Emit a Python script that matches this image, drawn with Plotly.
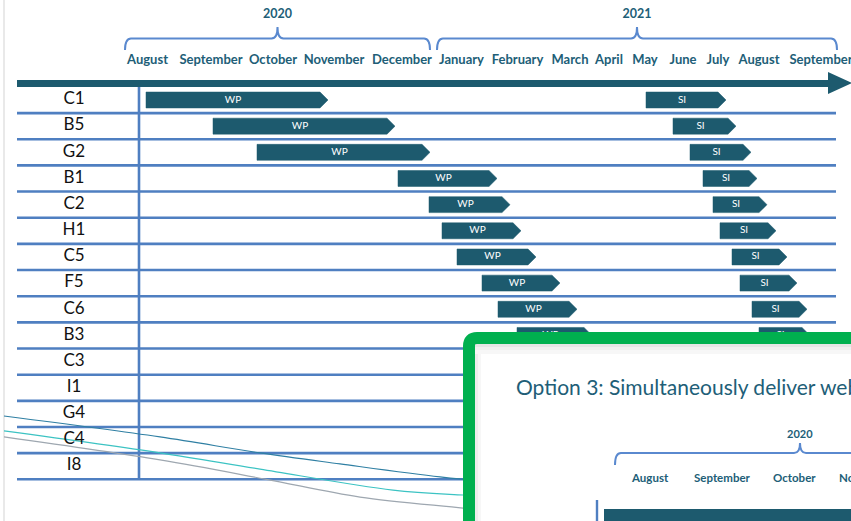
import plotly.graph_objects as go

# ---------------- data ----------------
rows = ["C1", "B5", "G2", "B1", "C2", "H1", "C5", "F5", "C6", "B3", "C3", "I1", "G4", "C4", "I8"]
bar_rows = ["C1", "B5", "G2", "B1", "C2", "H1", "C5", "F5", "C6", "B3"]
# timeline position in month-width units (0 = start line of the chart)
wp_start = [0.14, 1.48, 2.36, 5.18, 5.80, 6.06, 6.36, 6.86, 7.18, 7.56]
wp_end = [3.78, 5.12, 5.82, 7.16, 7.42, 7.64, 7.94, 8.42, 8.76, 9.06]
si_start = [10.14, 10.68, 11.02, 11.28, 11.48, 11.62, 11.86, 12.02, 12.26, 12.40]
si_end = [11.74, 11.94, 12.24, 12.36, 12.56, 12.74, 12.96, 13.16, 13.36, 13.42]
wp_label = "WP"
si_label = "SI"

months = ["August", "September", "October", "November", "December", "January", "February",
          "March", "April", "May", "June", "July", "August", "September"]
month_pos = [0.17, 1.44, 2.68, 3.90, 5.26, 6.45, 7.57, 8.62, 9.40, 10.12, 10.88, 11.58, 12.40, 13.64]
years = ["2020", "2021"]
year_start = [-0.28, 5.96]
year_end = [5.82, 13.96]

# faint curves crossing the lower-left part of the slide
curve_dark_x = [-2.70, 0.42, 2.42, 4.02, 6.02, 7.00]
curve_dark_y = [12.08, 12.88, 13.49, 13.91, 14.41, 14.60]
curve_cyan_x = [-2.70, 0.42, 2.42, 5.08, 6.48, 7.00]
curve_cyan_y = [12.65, 13.49, 14.11, 14.91, 15.10, 15.15]
curve_gray_x = [-2.70, 0.42, 2.52, 4.42, 6.48, 7.00]
curve_gray_y = [12.88, 13.76, 14.49, 15.18, 15.60, 15.72]

# overlaid slide
inset_title = "Option 3: Simultaneously deliver web"
inset_year = "2020"
inset_months = ["August", "September", "October"]
inset_month_cut = "November"

# ---------------- geometry / style ----------------
W, H = 851, 521
X0_PX, X_SCALE = 139.0, 50.0
Y0_PX, Y_SCALE = 100.0, 26.16


def X(px):
    return (px - X0_PX) / X_SCALE


def Y(py):
    return (py - Y0_PX) / Y_SCALE


def PX(px):
    return px / W


def PY(py):
    return 1 - py / H


TEAL = "#1D5A6E"
TEXT = "#215E77"
LINE = "#4F7FC1"
BRACE = "#5A89CF"
GREEN = "#00B04F"
FONT = "Lato"

BAR_H = 0.61
TIP = 0.16

fig = go.Figure()

# slide edge
fig.add_trace(go.Scatter(x=[X(4), X(4)], y=[Y(0), Y(521)], mode="lines",
                         line=dict(color="#E2E2E2", width=1.5), hoverinfo="skip"))

# row separator lines
lx, ly = [], []
for k in range(len(rows)):
    lx += [X(17), X(836), None]
    ly += [k + 0.5, k + 0.5, None]
fig.add_trace(go.Scatter(x=lx, y=ly, mode="lines", line=dict(color=LINE, width=2.6),
                         hoverinfo="skip"))
# vertical start line
fig.add_trace(go.Scatter(x=[0, 0], y=[Y(86), len(rows) - 0.5], mode="lines",
                         line=dict(color=LINE, width=2.6), hoverinfo="skip"))

# curves
for cx, cy, col in [(curve_dark_x, curve_dark_y, "#2F7FA3"),
                    (curve_cyan_x, curve_cyan_y, "#3CC3C3"),
                    (curve_gray_x, curve_gray_y, "#9EA7B0")]:
    fig.add_trace(go.Scatter(x=cx, y=cy, mode="lines", line=dict(color=col, width=1.2, shape="spline"),
                             hoverinfo="skip"))

# timeline arrow
fig.add_trace(go.Scatter(x=[X(17), X(830)], y=[Y(83.5), Y(83.5)], mode="lines",
                         line=dict(color=TEAL, width=7), hoverinfo="skip"))
fig.add_trace(go.Scatter(x=[X(828), X(852), X(828), X(828)], y=[Y(72), Y(83), Y(94), Y(72)],
                         mode="lines", fill="toself", fillcolor=TEAL, line=dict(color=TEAL, width=0),
                         hoverinfo="skip"))


def arrows(starts, ends):
    xs, ys = [], []
    for r, s, e in zip(bar_rows, starts, ends):
        i = rows.index(r)
        xs += [s, e - TIP, e, e - TIP, s, s, None]
        ys += [i - BAR_H / 2, i - BAR_H / 2, i, i + BAR_H / 2, i + BAR_H / 2, i - BAR_H / 2, None]
    return xs, ys


for st, en in [(wp_start, wp_end), (si_start, si_end)]:
    xs, ys = arrows(st, en)
    fig.add_trace(go.Scatter(x=xs, y=ys, mode="lines", fill="toself", fillcolor=TEAL,
                             line=dict(color=TEAL, width=0.5), hoverinfo="skip"))

# bar labels
tx, ty, tt = [], [], []
for st, en, lab in [(wp_start, wp_end, wp_label), (si_start, si_end, si_label)]:
    for r, s, e in zip(bar_rows, st, en):
        tx.append((s + e - TIP) / 2)
        ty.append(rows.index(r))
        tt.append(lab)
fig.add_trace(go.Scatter(x=tx, y=ty, text=tt, mode="text",
                         textfont=dict(family=FONT, size=10, color="white"), hoverinfo="skip"))

# row labels
fig.add_trace(go.Scatter(x=[X(74)] * len(rows), y=list(range(len(rows))), text=rows, mode="text",
                         textfont=dict(family=FONT, size=17, color="#111111"), hoverinfo="skip"))

# month labels
fig.add_trace(go.Scatter(x=month_pos, y=[Y(60.5)] * len(months), text=[f"<b>{m}</b>" for m in months],
                         mode="text", textfont=dict(family=FONT, size=13, color=TEXT), hoverinfo="skip"))

# year labels and braces
shapes = []
yl, yb, yn = Y(38.5), Y(50), Y(27)
rx = X(145) - X(139)
for yr, a, b in zip(years, year_start, year_end):
    c = (a + b) / 2
    fig.add_trace(go.Scatter(x=[c], y=[Y(15)], text=[f"<b>{yr}</b>"], mode="text",
                             textfont=dict(family=FONT, size=12.5, color=TEXT), hoverinfo="skip"))
    path = (f"M {a},{yb} Q {a},{yl} {a + rx},{yl} L {c - rx},{yl} Q {c},{yl} {c},{yn} "
            f"Q {c},{yl} {c + rx},{yl} L {b - rx},{yl} Q {b},{yl} {b},{yb}")
    shapes.append(dict(type="path", path=path, xref="x", yref="y",
                       line=dict(color=BRACE, width=2), layer="above"))

# ---------------- overlaid slide (paper coordinates) ----------------
gp = (f"M {PX(469)},{PY(620)} L {PX(469)},{PY(346)} Q {PX(469)},{PY(338)} {PX(477)},{PY(338)} "
      f"L {PX(960)},{PY(338)} L {PX(960)},{PY(620)} Z")
shapes.append(dict(type="path", path=gp, xref="paper", yref="paper", fillcolor="white",
                   line=dict(color=GREEN, width=12), layer="above"))
for (a, b, op) in [(344, 347, 0.10), (347, 350, 0.06), (350, 354, 0.03)]:
    shapes.append(dict(type="rect", xref="paper", yref="paper", x0=PX(475), x1=PX(960),
                       y0=PY(a), y1=PY(b), fillcolor=f"rgba(0,0,0,{op})", line=dict(width=0),
                       layer="above"))
for (a, b, op) in [(475, 478, 0.07), (478, 481, 0.03)]:
    shapes.append(dict(type="rect", xref="paper", yref="paper", x0=PX(a), x1=PX(b),
                       y0=PY(354), y1=PY(620), fillcolor=f"rgba(0,0,0,{op})", line=dict(width=0),
                       layer="above"))
ip = (f"M {PX(615)},{PY(465)} Q {PX(615)},{PY(453)} {PX(621)},{PY(453)} L {PX(794)},{PY(453)} "
      f"Q {PX(800)},{PY(453)} {PX(800)},{PY(443)} Q {PX(800)},{PY(453)} {PX(806)},{PY(453)} "
      f"L {PX(960)},{PY(453)}")
shapes.append(dict(type="path", path=ip, xref="paper", yref="paper",
                   line=dict(color=BRACE, width=2), layer="above"))
shapes.append(dict(type="line", xref="paper", yref="paper", x0=PX(597), x1=PX(597),
                   y0=PY(500), y1=PY(620), line=dict(color=LINE, width=2.4), layer="above"))
shapes.append(dict(type="rect", xref="paper", yref="paper", x0=PX(604), x1=PX(960),
                   y0=PY(509), y1=PY(620), fillcolor=TEAL, line=dict(width=0), layer="above"))

annotations = [
    dict(xref="paper", yref="paper", x=PX(514), y=PY(386), xanchor="left", yanchor="middle",
         text=inset_title, showarrow=False, font=dict(family=FONT, size=21, color=TEXT)),
    dict(xref="paper", yref="paper", x=PX(800), y=PY(433), xanchor="center", yanchor="middle",
         text=f"<b>{inset_year}</b>", showarrow=False, font=dict(family=FONT, size=11, color=TEXT)),
    dict(xref="paper", yref="paper", x=PX(837), y=PY(477), xanchor="left", yanchor="middle",
         text=f"<b>{inset_month_cut}</b>", showarrow=False, font=dict(family=FONT, size=11.5, color=TEXT)),
]
for m, px in zip(inset_months, [650, 722, 794]):
    annotations.append(dict(xref="paper", yref="paper", x=PX(px), y=PY(477), xanchor="center",
                            yanchor="middle", text=f"<b>{m}</b>", showarrow=False,
                            font=dict(family=FONT, size=11.5, color=TEXT)))

fig.update_layout(
    width=W, height=H, margin=dict(l=0, r=0, t=0, b=0, pad=0),
    paper_bgcolor="white", plot_bgcolor="white", showlegend=False,
    xaxis=dict(visible=False, range=[X(0), X(W)], fixedrange=True),
    yaxis=dict(visible=False, range=[Y(H), Y(0)], fixedrange=True),
    shapes=shapes, annotations=annotations,
)

fig.write_html("out.html", config={"displayModeBar": False},
               post_script="document.body.style.margin='0';document.body.style.overflow='hidden';")
